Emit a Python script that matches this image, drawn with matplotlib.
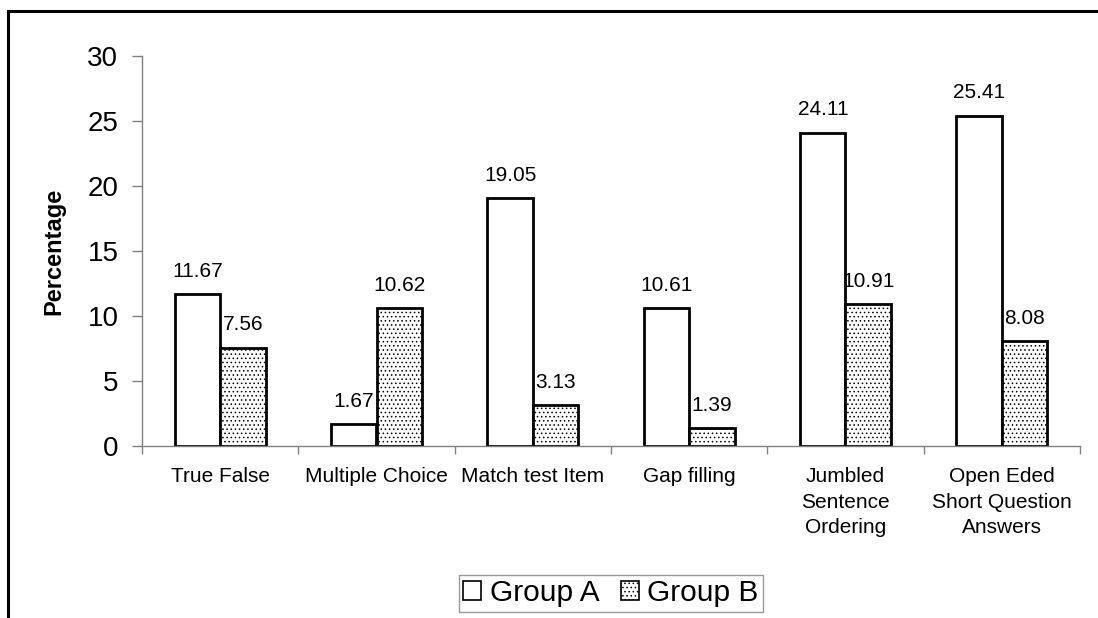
import numpy as np
import matplotlib
matplotlib.use("Agg")
import matplotlib.pyplot as plt
from matplotlib.lines import Line2D

plt.rcParams['font.family'] = ['Liberation Sans', 'DejaVu Sans']
plt.rcParams['hatch.color'] = '#404040'
plt.rcParams['hatch.linewidth'] = 0.6

# data
categories = ["True False", "Multiple Choice", "Match test Item", "Gap filling",
              "Jumbled\nSentence\nOrdering", "Open Eded\nShort Question\nAnswers"]
group_a = [11.67, 1.67, 19.05, 10.61, 24.11, 25.41]
group_b = [7.56, 10.62, 3.13, 1.39, 10.91, 8.08]
series_names = ["Group A", "Group B"]

fig = plt.figure(figsize=(10.98, 6.18), dpi=100)
ax = fig.add_axes([142 / 1098, 1 - 446 / 618, (1080 - 142) / 1098, (446 - 56) / 618])

x = np.arange(len(categories))
w = 0.29
bars_a = ax.bar(x - w / 2, group_a, w, facecolor='white', edgecolor='black', linewidth=2, label=series_names[0])
bars_b = ax.bar(x + w / 2, group_b, w, facecolor='white', edgecolor='black', linewidth=2,
                hatch='....', label=series_names[1])

# value labels above each bar
for bars, vals in [(bars_a, group_a), (bars_b, group_b)]:
    for b, v in zip(bars, vals):
        ax.annotate(f"{v:.2f}", (b.get_x() + b.get_width() / 2, v), xytext=(0, 12.5),
                    textcoords='offset points', ha='center', va='baseline', fontsize=15)

ax.set_xlim(-0.5, len(categories) - 0.5)
ax.set_ylim(0, 30)
ax.set_yticks(range(0, 31, 5))
ax.set_xticks(x)
ax.set_xticklabels(categories, fontsize=15, linespacing=1.45)
ax.set_xticks(np.arange(-0.5, len(categories), 1), minor=True)
ax.tick_params(axis='x', which='major', length=0, pad=15)
ax.tick_params(axis='x', which='minor', length=6, width=1, color='#808080', direction='out')
ax.tick_params(axis='y', labelsize=20, length=7, width=1, color='#808080', pad=10)

for s in ['top', 'right']:
    ax.spines[s].set_visible(False)
for s in ['left', 'bottom']:
    ax.spines[s].set_color('#808080')
    ax.spines[s].set_linewidth(1)

ax.set_ylabel("Percentage", fontsize=17, fontweight='bold', labelpad=16)

leg = fig.legend(loc='center', bbox_to_anchor=(0.5565, 0.0397), ncol=2, fontsize=21.5,
                 frameon=True, fancybox=False, edgecolor='#808080', handlelength=0.6,
                 handleheight=0.6, handletextpad=0.3, columnspacing=0.7, borderpad=0.15,
                 borderaxespad=0)
leg.get_frame().set_linewidth(1)
for h in leg.legend_handles:
    h.set_linewidth(1.2)

# outer frame (top and left edges)
fx = 8 / 1098
fy = 1 - 11 / 618
fig.add_artist(Line2D([fx, fx, 1.0], [0.0, fy, fy], transform=fig.transFigure,
                      color='black', linewidth=2.2, solid_joinstyle='miter'))

fig.savefig("out.png", dpi=100)
